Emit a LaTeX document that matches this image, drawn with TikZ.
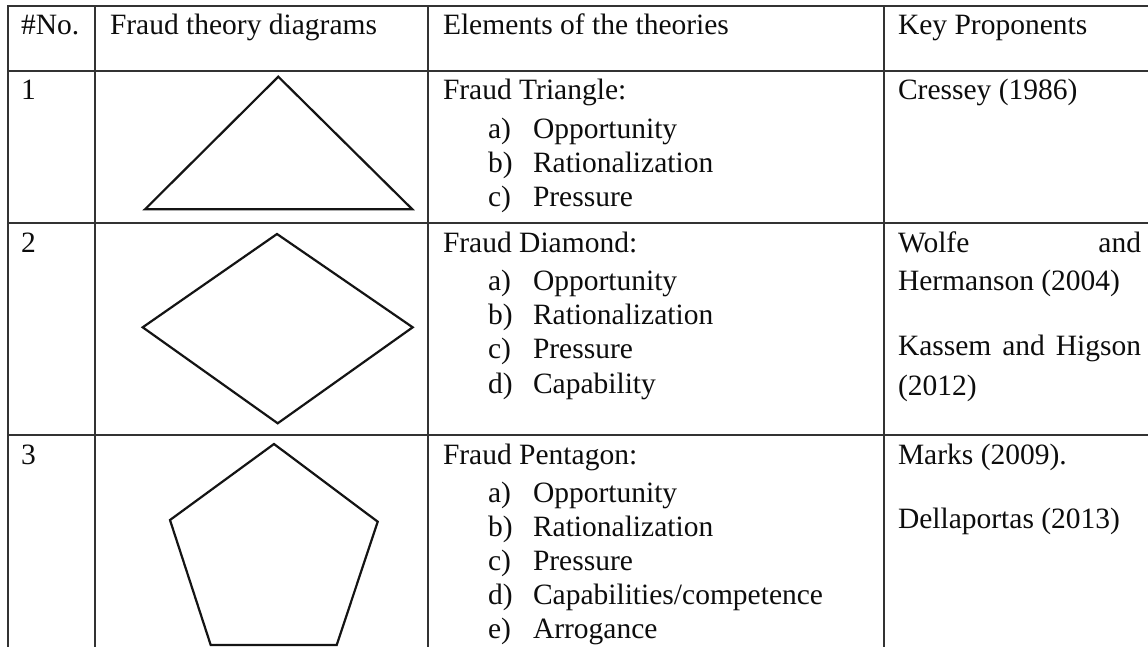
\documentclass[tikz,border=0pt]{standalone}
\usepackage{fontspec}
\setmainfont{Liberation Serif}
\begin{document}
\begin{tikzpicture}[x=1pt,y=-1pt,
  txt/.style={anchor=base west,inner sep=0pt,outer sep=0pt,font=\fontsize{29.5pt}{34pt}\selectfont,text=black!95},
  gridline/.style={line width=2pt,draw=black!80},
  fig/.style={line width=2.2pt,draw=black!92,line join=miter}]
\useasboundingbox (0,0) rectangle (1148,646);
\fill[white] (0,0) rectangle (1148,646);
\begin{scope}
\clip (0,0) rectangle (1148,646);
\foreach \y in {6,71,223,434.5} \draw[gridline] (7,\y) -- (1160,\y);
\foreach \x in {8,95,428,884} \draw[gridline] (\x,6) -- (\x,660);
\draw[fig] (278.3,76.7) -- (412.3,209.3) -- (145,209.3) -- cycle;
\draw[fig] (277,234) -- (412.7,327.3) -- (277.7,423.3) -- (142.7,327.3) -- cycle;
\draw[fig] (274,444) -- (377.7,521.7) -- (336.7,645) -- (210.7,645) -- (170,520) -- cycle;
\end{scope}
% header
\node[txt] (hno) at (21,34) {\#No.};
\node[txt] (hdia) at (110,34) {Fraud theory diagrams};
\node[txt] (hel) at (443,34) {Elements of the theories};
\node[txt] (hkey) at (898,34) {Key Proponents};
% row numbers
\node[txt] (n1) at (21,99) {1};
\node[txt] (n2) at (21,252) {2};
\node[txt] (n3) at (21,464) {3};
% row 1
\node[txt] (t1) at (443,99) {Fraud Triangle:};
\node[txt] (t1a) at (488,138) {a)};
\node[txt] (t1at) at (533,138) {Opportunity};
\node[txt] (t1b) at (488,172) {b)};
\node[txt] (t1bt) at (533,172) {Rationalization};
\node[txt] (t1c) at (488,206) {c)};
\node[txt] (t1ct) at (533,206) {Pressure};
\node[txt] (k1) at (898,99) {Cressey (1986)};
% row 2
\node[txt] (t2) at (443,252) {Fraud Diamond:};
\node[txt] (t2a) at (488,290) {a)};
\node[txt] (t2at) at (533,290) {Opportunity};
\node[txt] (t2b) at (488,324) {b)};
\node[txt] (t2bt) at (533,324) {Rationalization};
\node[txt] (t2c) at (488,358) {c)};
\node[txt] (t2ct) at (533,358) {Pressure};
\node[txt] (t2d) at (488,393) {d)};
\node[txt] (t2dt) at (533,393) {Capability};
\node[txt] (k2a) at (898,252) {\makebox[243pt][s]{Wolfe\hfill and}};
\node[txt] (k2b) at (898,290) {Hermanson (2004)};
\node[txt] (k2c) at (898,355) {\makebox[243pt][s]{Kassem and Higson}};
\node[txt] (k2d) at (898,395) {(2012)};
% row 3
\node[txt] (t3) at (443,464) {Fraud Pentagon:};
\node[txt] (t3a) at (488,502) {a)};
\node[txt] (t3at) at (533,502) {Opportunity};
\node[txt] (t3b) at (488,536) {b)};
\node[txt] (t3bt) at (533,536) {Rationalization};
\node[txt] (t3c) at (488,570) {c)};
\node[txt] (t3ct) at (533,570) {Pressure};
\node[txt] (t3d) at (488,604) {d)};
\node[txt] (t3dt) at (533,604) {Capabilities/competence};
\node[txt] (t3e) at (488,638) {e)};
\node[txt] (t3et) at (533,638) {Arrogance};
\node[txt] (k3a) at (898,464) {Marks (2009).};
\node[txt] (k3b) at (898,528) {Dellaportas (2013)};
\end{tikzpicture}
\end{document}
